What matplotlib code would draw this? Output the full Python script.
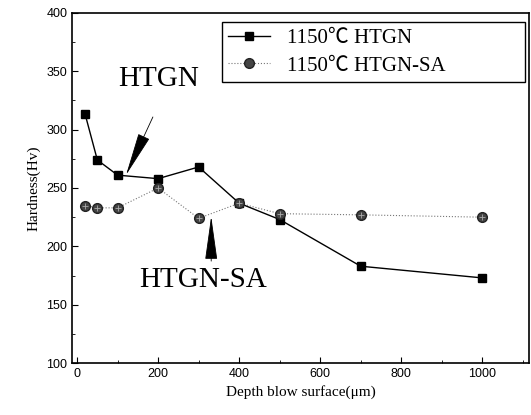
import matplotlib
matplotlib.use("Agg")
from matplotlib import pyplot as plt
from matplotlib.ticker import MultipleLocator

depth = [20, 50, 100, 200, 300, 400, 500, 700, 1000]
htgn = [313, 274, 261, 258, 268, 237, 223, 183, 173]
htgn_sa = [235, 233, 233, 250, 224, 237, 228, 227, 225]

fig = plt.figure(figsize=(5.31, 4.15), dpi=100)
ax = fig.add_axes([0.136, 0.125, 0.86, 0.844])

ax.plot(depth, htgn, color='black', lw=1.0, marker='s', ms=6,
        mfc='black', mec='black', label='1150℃ HTGN')
ax.plot(depth, htgn_sa, color='#777777', lw=0.8, ls=':', marker='o', ms=7,
        mfc='#444444', mec='#222222', label='1150℃ HTGN-SA')
ax.plot(depth, htgn_sa, ls='none', marker='+', ms=5, mec='#aaaaaa', mew=0.6)

ax.set_xlim(-12, 1115)
ax.set_ylim(100, 400)
ax.xaxis.set_major_locator(MultipleLocator(200))
ax.xaxis.set_minor_locator(MultipleLocator(100))
ax.yaxis.set_major_locator(MultipleLocator(50))
ax.yaxis.set_minor_locator(MultipleLocator(25))
ax.tick_params(which='both', direction='in', labelsize=9)
ax.tick_params(which='major', length=4)
ax.tick_params(which='minor', length=2)
for lab in ax.get_xticklabels() + ax.get_yticklabels():
    lab.set_family('Liberation Sans')
for s in ax.spines.values():
    s.set_linewidth(1.2)

ax.set_xlabel('Depth blow surface(μm)', family='Liberation Serif', fontsize=11)
ax.set_ylabel('Hardness(Hv)', family='Liberation Serif', fontsize=11)

arrow = dict(arrowstyle='-|>,head_length=2.0,head_width=0.28',
             color='black', lw=0.6, mutation_scale=14)
ax.annotate('', xy=(118, 259), xytext=(190, 313), arrowprops=arrow)
ax.text(202, 343, 'HTGN', family='Liberation Serif', fontsize=21,
        ha='center', va='center')
ax.annotate('', xy=(331, 228), xytext=(331, 185), arrowprops=arrow)
ax.text(310, 171, 'HTGN-SA', family='Liberation Serif', fontsize=21,
        ha='center', va='center')

leg = ax.legend(loc='upper left',
                prop={'family': ['Liberation Serif', 'Noto Sans CJK KR'], 'size': 15},
                fancybox=False, edgecolor='black', framealpha=1,
                borderpad=0.3, labelspacing=0.4, handlelength=2.0,
                borderaxespad=0,
                bbox_to_anchor=(0.328, 0.974, 0.663, 0), mode='expand')
leg.get_frame().set_linewidth(1.0)

fig.savefig('out.png', dpi=100)
